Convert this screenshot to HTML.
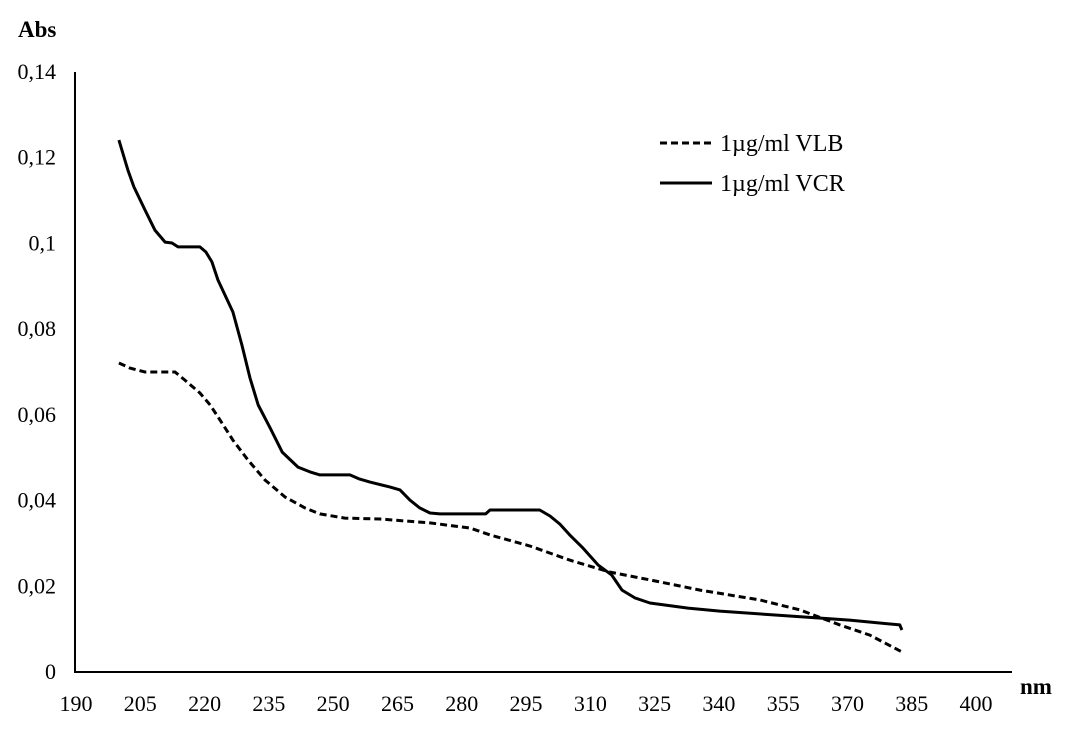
<!DOCTYPE html>
<html><head><meta charset="utf-8"><style>
body{margin:0;background:#fff;}
svg text{font-family:"Liberation Serif",serif;fill:#000;}
</style></head><body>
<svg id="chart" width="1065" height="742" xmlns="http://www.w3.org/2000/svg">
<g id="axes"></g><g id="series"></g>
<text x="18" y="37" font-size="23" font-weight="bold">Abs</text>
<text x="1020" y="694" font-size="23" font-weight="bold">nm</text>
<g>
<line x1="660" y1="143" x2="712" y2="143" stroke="#000" stroke-width="3" stroke-dasharray="7,4"/>
<text x="720" y="151" font-size="24">1µg/ml VLB</text>
<line x1="660" y1="183" x2="712" y2="183" stroke="#000" stroke-width="3"/>
<text x="720" y="191" font-size="24">1µg/ml VCR</text>
</g>
</svg>
<script>
const xTicks=[190,205,220,235,250,265,280,295,310,325,340,355,370,385,400];
const yTicks=[0,0.02,0.04,0.06,0.08,0.1,0.12,0.14];
const yTickLabels=["0","0,02","0,04","0,06","0,08","0,1","0,12","0,14"];
const vcrNm=[200,202.1,203.5,206.1,208.4,210.8,212.4,213.8,218.9,220.3,221.7,223.1,226.6,228.7,230.6,232.5,235.3,238.1,241.8,244.6,246.9,253.9,256.2,258.6,263.2,265.6,267.9,270.2,272.6,274.9,285.6,286.6,298.2,300.6,302.9,305.2,308.3,311.8,315,317.4,320.4,323.9,332.8,340.2,353.1,370.5,382.2,382.7];
const vcrAbs=[0.1241,0.1171,0.1132,0.1078,0.1031,0.1003,0.1001,0.0992,0.0992,0.098,0.0957,0.0915,0.084,0.0763,0.0686,0.0623,0.0569,0.0513,0.0478,0.0467,0.046,0.046,0.045,0.0443,0.0432,0.0425,0.0401,0.0383,0.0371,0.0369,0.0369,0.0378,0.0378,0.0364,0.0345,0.032,0.0289,0.025,0.0226,0.0191,0.0173,0.0161,0.0149,0.0142,0.0133,0.0121,0.011,0.0098];
const vlbNm=[200,202.6,206.1,213.1,215.4,218.9,221.3,223.6,226.6,230.1,234.1,238.8,243.4,246.9,252.7,260.9,272.6,281.9,286.6,295.9,305.2,314.6,323.9,335.6,349.6,358.9,368.2,375.2,382.7];
const vlbAbs=[0.0721,0.0709,0.07,0.07,0.0681,0.0651,0.0623,0.0588,0.0541,0.0495,0.0448,0.0408,0.0383,0.0369,0.0359,0.0357,0.0348,0.0336,0.032,0.0294,0.0261,0.0233,0.0215,0.0191,0.0168,0.0145,0.011,0.0086,0.0047];
const NS="http://www.w3.org/2000/svg";
const X=v=>76+(v-190)*64.29/15;
const Y=v=>672-v*(600/0.14);
function mk(tag,attrs,parent){const e=document.createElementNS(NS,tag);for(const k in attrs)e.setAttribute(k,attrs[k]);parent.appendChild(e);return e;}
const axes=document.getElementById('axes');
let a=mk('path',{d:'M75,72 V672 H1012',fill:'none',stroke:'#000','stroke-width':2},axes);


xTicks.forEach(t=>{const e=mk('text',{x:X(t),y:711,'font-size':22,'text-anchor':'middle'},axes);e.textContent=t;

});
yTicks.forEach((t,i)=>{const e=mk('text',{x:56,y:Y(t)+7,'font-size':22,'text-anchor':'end'},axes);e.textContent=yTickLabels[i];

});
const s=document.getElementById('series');
const pts=(xs,ys)=>xs.map((v,i)=>X(v).toFixed(1)+','+Y(ys[i]).toFixed(1)).join(' ');
let l1=mk('polyline',{points:pts(vlbNm,vlbAbs),fill:'none',stroke:'#000','stroke-width':3,'stroke-dasharray':'7,4'},s);


let l2=mk('polyline',{points:pts(vcrNm,vcrAbs),fill:'none',stroke:'#000','stroke-width':3,'stroke-linejoin':'round'},s);


</script>
</body></html>
